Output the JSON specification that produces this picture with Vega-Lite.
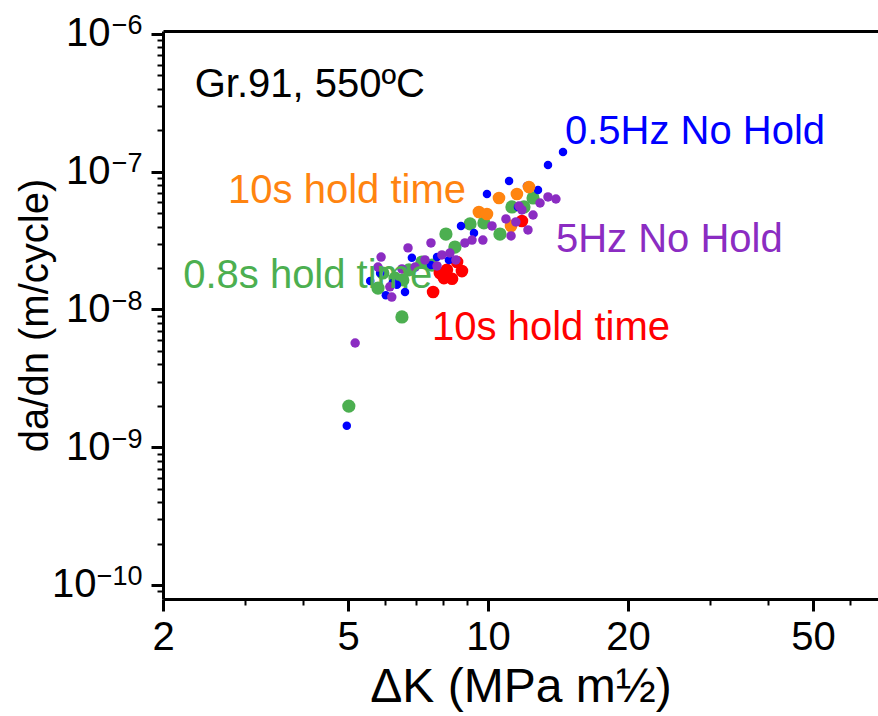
{
  "$schema": "https://vega.github.io/schema/vega-lite/v6.json",
  "width": 715,
  "height": 568,
  "autosize": {"type": "none"},
  "padding": {"left": 163, "top": 31, "right": 0, "bottom": 117},
  "background": "white",
  "config": {
    "view": {"stroke": null},
    "font": "Liberation Sans, Arial, Helvetica, sans-serif",
    "axis": {
      "grid": false,
      "domainColor": "black",
      "domainWidth": 3,
      "tickColor": "black",
      "labelColor": "black",
      "titleColor": "black",
      "labelFont": "Liberation Sans, Arial, sans-serif",
      "titleFont": "Liberation Sans, Arial, sans-serif",
      "titleFontWeight": "normal",
      "labelFlush": false,
      "labelOverlap": false,
      "labelBound": false
    }
  },
  "datasets": {
    "points": [
      {"series": "0.8s hold time", "dK": 5.02, "dadn": 1.99e-9},
      {"series": "0.8s hold time", "dK": 6.53, "dadn": 8.82e-9},
      {"series": "0.8s hold time", "dK": 5.80, "dadn": 1.43e-8},
      {"series": "0.8s hold time", "dK": 5.94, "dadn": 1.84e-8},
      {"series": "0.8s hold time", "dK": 6.31, "dadn": 1.69e-8},
      {"series": "0.8s hold time", "dK": 6.56, "dadn": 1.64e-8},
      {"series": "0.8s hold time", "dK": 7.21, "dadn": 2.21e-8},
      {"series": "0.8s hold time", "dK": 7.58, "dadn": 2.10e-8},
      {"series": "0.8s hold time", "dK": 8.12, "dadn": 3.53e-8},
      {"series": "0.8s hold time", "dK": 8.49, "dadn": 2.84e-8},
      {"series": "0.8s hold time", "dK": 9.15, "dadn": 4.18e-8},
      {"series": "0.8s hold time", "dK": 9.80, "dadn": 4.25e-8},
      {"series": "0.8s hold time", "dK": 10.61, "dadn": 3.53e-8},
      {"series": "0.8s hold time", "dK": 11.26, "dadn": 5.55e-8},
      {"series": "0.8s hold time", "dK": 11.95, "dadn": 5.55e-8},
      {"series": "0.8s hold time", "dK": 12.50, "dadn": 6.45e-8},
      {"series": "0.8s hold time", "dK": 6.76, "dadn": 1.94e-8},
      {"series": "10s hold time (red)", "dK": 7.62, "dadn": 1.34e-8},
      {"series": "10s hold time (red)", "dK": 7.88, "dadn": 1.84e-8},
      {"series": "10s hold time (red)", "dK": 8.16, "dadn": 1.94e-8},
      {"series": "10s hold time (red)", "dK": 8.37, "dadn": 1.67e-8},
      {"series": "10s hold time (red)", "dK": 8.79, "dadn": 1.90e-8},
      {"series": "10s hold time (red)", "dK": 8.58, "dadn": 2.21e-8},
      {"series": "10s hold time (red)", "dK": 11.83, "dadn": 4.39e-8},
      {"series": "10s hold time (red)", "dK": 8.04, "dadn": 1.69e-8},
      {"series": "0.5Hz No Hold", "dK": 14.50, "dadn": 1.39e-7},
      {"series": "0.5Hz No Hold", "dK": 13.46, "dadn": 1.12e-7},
      {"series": "0.5Hz No Hold", "dK": 11.10, "dadn": 8.57e-8},
      {"series": "0.5Hz No Hold", "dK": 9.95, "dadn": 6.89e-8},
      {"series": "0.5Hz No Hold", "dK": 12.13, "dadn": 7.88e-8},
      {"series": "0.5Hz No Hold", "dK": 12.81, "dadn": 7.37e-8},
      {"series": "0.5Hz No Hold", "dK": 11.60, "dadn": 5.55e-8},
      {"series": "0.5Hz No Hold", "dK": 8.75, "dadn": 4.04e-8},
      {"series": "0.5Hz No Hold", "dK": 9.33, "dadn": 3.59e-8},
      {"series": "0.5Hz No Hold", "dK": 6.86, "dadn": 2.37e-8},
      {"series": "0.5Hz No Hold", "dK": 7.77, "dadn": 2.40e-8},
      {"series": "0.5Hz No Hold", "dK": 8.24, "dadn": 2.29e-8},
      {"series": "0.5Hz No Hold", "dK": 5.58, "dadn": 1.61e-8},
      {"series": "0.5Hz No Hold", "dK": 5.86, "dadn": 1.84e-8},
      {"series": "0.5Hz No Hold", "dK": 6.37, "dadn": 1.51e-8},
      {"series": "0.5Hz No Hold", "dK": 6.63, "dadn": 1.34e-8},
      {"series": "0.5Hz No Hold", "dK": 6.03, "dadn": 1.27e-8},
      {"series": "0.5Hz No Hold", "dK": 7.54, "dadn": 2.10e-8},
      {"series": "0.5Hz No Hold", "dK": 4.97, "dadn": 1.43e-9},
      {"series": "0.5Hz No Hold", "dK": 6.24, "dadn": 1.56e-8},
      {"series": "10s hold time (orange)", "dK": 10.56, "dadn": 6.45e-8},
      {"series": "10s hold time (orange)", "dK": 11.54, "dadn": 6.89e-8},
      {"series": "10s hold time (orange)", "dK": 12.25, "dadn": 7.75e-8},
      {"series": "10s hold time (orange)", "dK": 9.56, "dadn": 5.10e-8},
      {"series": "10s hold time (orange)", "dK": 9.95, "dadn": 4.93e-8},
      {"series": "10s hold time (orange)", "dK": 11.21, "dadn": 4.04e-8},
      {"series": "5Hz No Hold", "dK": 5.18, "dadn": 5.71e-9},
      {"series": "5Hz No Hold", "dK": 5.89, "dadn": 2.40e-8},
      {"series": "5Hz No Hold", "dK": 6.73, "dadn": 2.80e-8},
      {"series": "5Hz No Hold", "dK": 7.54, "dadn": 3.04e-8},
      {"series": "5Hz No Hold", "dK": 7.96, "dadn": 2.49e-8},
      {"series": "5Hz No Hold", "dK": 8.28, "dadn": 2.57e-8},
      {"series": "5Hz No Hold", "dK": 8.53, "dadn": 2.29e-8},
      {"series": "5Hz No Hold", "dK": 8.92, "dadn": 3.04e-8},
      {"series": "5Hz No Hold", "dK": 9.24, "dadn": 3.19e-8},
      {"series": "5Hz No Hold", "dK": 9.75, "dadn": 3.19e-8},
      {"series": "5Hz No Hold", "dK": 10.20, "dadn": 4.04e-8},
      {"series": "5Hz No Hold", "dK": 10.93, "dadn": 4.54e-8},
      {"series": "5Hz No Hold", "dK": 11.21, "dadn": 3.42e-8},
      {"series": "5Hz No Hold", "dK": 11.83, "dadn": 5.28e-8},
      {"series": "5Hz No Hold", "dK": 12.50, "dadn": 4.85e-8},
      {"series": "5Hz No Hold", "dK": 12.19, "dadn": 3.78e-8},
      {"series": "5Hz No Hold", "dK": 12.94, "dadn": 5.93e-8},
      {"series": "5Hz No Hold", "dK": 13.46, "dadn": 6.56e-8},
      {"series": "5Hz No Hold", "dK": 14.00, "dadn": 6.34e-8},
      {"series": "5Hz No Hold", "dK": 6.97, "dadn": 2.03e-8},
      {"series": "5Hz No Hold", "dK": 7.32, "dadn": 2.29e-8},
      {"series": "5Hz No Hold", "dK": 7.77, "dadn": 2.07e-8},
      {"series": "5Hz No Hold", "dK": 6.21, "dadn": 1.23e-8},
      {"series": "5Hz No Hold", "dK": 6.15, "dadn": 1.46e-8},
      {"series": "5Hz No Hold", "dK": 5.80, "dadn": 2.03e-8},
      {"series": "5Hz No Hold", "dK": 6.53, "dadn": 1.97e-8},
      {"series": "5Hz No Hold", "dK": 11.48, "dadn": 4.32e-8},
      {"series": "5Hz No Hold", "dK": 11.66, "dadn": 5.64e-8}
    ],
    "labels": [
      {"series": "note", "text": "Gr.91, 550ºC", "dK": 2.34, "dadn": 3.49e-7},
      {"series": "0.5Hz No Hold", "text": "0.5Hz No Hold", "dK": 14.64, "dadn": 1.59e-7},
      {"series": "10s hold time (orange)", "text": "10s hold time", "dK": 2.76, "dadn": 5.93e-8},
      {"series": "5Hz No Hold", "text": "5Hz No Hold", "dK": 14.0, "dadn": 2.615e-8},
      {"series": "0.8s hold time", "text": "0.8s hold time", "dK": 2.21, "dadn": 1.43e-8},
      {"series": "10s hold time (red)", "text": "10s hold time", "dK": 7.58, "dadn": 6.01e-9}
    ]
  },
  "layer": [
    {
      "data": {"name": "points"},
      "mark": {"type": "point", "opacity": 0},
      "encoding": {
        "x": {"field": "dK", "type": "quantitative", "scale": {"type": "log", "domain": [2, 69], "nice": false, "zero": false},
          "axis": {"orient": "bottom", "values": [3, 4, 6, 7, 8, 9, 30, 40, 60], "labels": false, "domain": false, "tickSize": 6, "tickWidth": 2, "title": null}},
        "y": {"field": "dadn", "type": "quantitative", "scale": {"type": "log", "domain": [7.91e-11, 1.051e-6], "nice": false, "zero": false},
          "axis": {"orient": "left", "values": [9e-11, 2e-10, 3e-10, 4e-10, 5e-10, 6e-10, 7e-10, 8e-10, 9e-10, 2e-9, 3e-9, 4e-9, 5e-9, 6e-9, 7e-9, 8e-9, 9e-9, 2e-8, 3e-8, 4e-8, 5e-8, 6e-8, 7e-8, 8e-8, 9e-8, 2e-7, 3e-7, 4e-7, 5e-7, 6e-7, 7e-7, 8e-7, 9e-7], "labels": false, "domain": false, "tickSize": 6, "tickWidth": 2, "title": null}}
      }
    },
    {
      "data": {"name": "points"},
      "mark": {"type": "point", "opacity": 0},
      "encoding": {
        "x": {"field": "dK", "type": "quantitative", "scale": {"type": "log", "domain": [2, 69], "nice": false, "zero": false},
          "axis": {"orient": "top", "labels": false, "ticks": false, "domain": true, "domainWidth": 3, "title": null}},
        "y": {"field": "dadn", "type": "quantitative", "scale": {"type": "log", "domain": [7.91e-11, 1.051e-6], "nice": false, "zero": false},
          "axis": {"orient": "left", "values": [1e-10, 1e-9, 1e-8, 1e-7, 1e-6], "ticks": false, "tickSize": 0, "domain": false, "title": null,
            "labelFontSize": 27, "labelAlign": "right", "labelBaseline": "alphabetic", "labelDy": -1, "labelPadding": 21,
            "labelExpr": "'−' + (-round(log(datum.value)/LN10))"}}
      }
    },
    {
      "data": {"name": "points"},
      "mark": {"type": "point", "opacity": 0},
      "encoding": {
        "x": {"field": "dK", "type": "quantitative", "scale": {"type": "log", "domain": [2, 69], "nice": false, "zero": false}, "axis": null},
        "y": {"field": "dadn", "type": "quantitative", "scale": {"type": "log", "domain": [7.91e-11, 1.051e-6], "nice": false, "zero": false},
          "axis": {"orient": "left", "values": [1e-10], "ticks": false, "tickSize": 0, "domain": false, "title": null,
            "labelFontSize": 40, "labelAlign": "right", "labelPadding": 67, "labelExpr": "'10'"}}
      }
    },
    {
      "data": {"name": "points"},
      "mark": {"type": "circle", "opacity": 1},
      "encoding": {
        "x": {"field": "dK", "type": "quantitative", "scale": {"type": "log", "domain": [2, 69], "nice": false, "zero": false},
          "axis": {"orient": "bottom", "values": [2, 5, 10, 20, 50], "format": "d", "tickSize": 12, "tickWidth": 3, "labelFontSize": 40, "labelPadding": 6, "title": "ΔK (MPa m½)", "titleFontSize": 48, "titlePadding": 6}},
        "y": {"field": "dadn", "type": "quantitative", "scale": {"type": "log", "domain": [7.91e-11, 1.051e-6], "nice": false, "zero": false},
          "axis": {"orient": "left", "values": [1e-10, 1e-9, 1e-8, 1e-7, 1e-6], "tickSize": 12, "tickWidth": 3, "labelFontSize": 40, "labelPadding": 41, "labelAlign": "right",
            "labelExpr": "round(log(datum.value)/LN10) == -10 ? '' : '10'",
            "title": "da/dn (m/cycle)", "titleFontSize": 40, "titlePadding": 10}},
        "color": {"field": "series", "type": "nominal", "legend": null,
          "scale": {"domain": ["0.5Hz No Hold", "10s hold time (orange)", "5Hz No Hold", "0.8s hold time", "10s hold time (red)", "note"],
                    "range": ["#0000FF", "#FF8410", "#8B2CC2", "#4CAF50", "#FF0000", "#000000"]}},
        "size": {"field": "series", "type": "nominal", "legend": null,
          "scale": {"type": "ordinal", "domain": ["0.5Hz No Hold", "10s hold time (orange)", "5Hz No Hold", "0.8s hold time", "10s hold time (red)", "note"],
                    "range": [72, 160, 90, 175, 160, 10]}}
      }
    },
    {
      "data": {"name": "labels"},
      "mark": {"type": "text", "align": "left", "baseline": "alphabetic", "fontSize": 40, "font": "Liberation Sans, Arial, sans-serif"},
      "encoding": {
        "x": {"field": "dK", "type": "quantitative", "scale": {"type": "log", "domain": [2, 69], "nice": false, "zero": false}, "axis": null},
        "y": {"field": "dadn", "type": "quantitative", "scale": {"type": "log", "domain": [7.91e-11, 1.051e-6], "nice": false, "zero": false}, "axis": null},
        "text": {"field": "text", "type": "nominal"},
        "color": {"field": "series", "type": "nominal", "legend": null,
          "scale": {"domain": ["0.5Hz No Hold", "10s hold time (orange)", "5Hz No Hold", "0.8s hold time", "10s hold time (red)", "note"],
                    "range": ["#0000FF", "#FF8410", "#8B2CC2", "#4CAF50", "#FF0000", "#000000"]}}
      }
    }
  ],
  "resolve": {"axis": {"x": "independent", "y": "independent"}}
}
